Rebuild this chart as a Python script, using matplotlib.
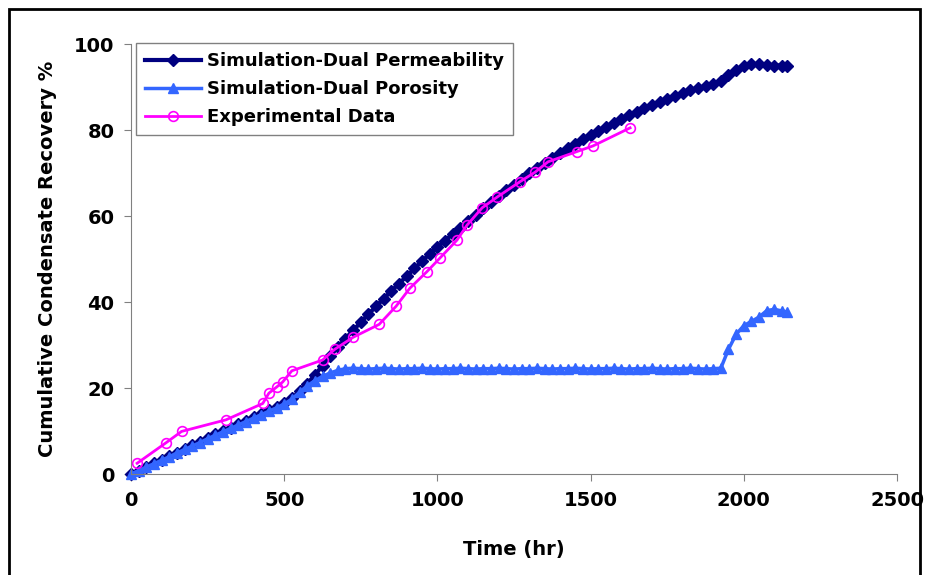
import numpy as np
import matplotlib
matplotlib.use("Agg")
from matplotlib import pyplot as plt
from matplotlib.patches import Rectangle

# sampling of the simulations (hr)
sim_hours = list(range(0, 2126, 25)) + [2140]

dual_perm = [0.0, 0.8, 1.6, 2.5, 3.3, 4.2, 5.0, 5.8, 6.7, 7.5,
             8.4, 9.2, 10.0, 10.8, 11.6, 12.4, 13.2, 14.0, 14.8, 15.6,
             16.5, 17.6, 19.2, 21.0, 23.0, 25.2, 27.4, 29.5, 31.5, 33.4,
             35.3, 37.2, 39.0, 40.8, 42.6, 44.3, 46.0, 47.8, 49.5, 51.2,
             52.8, 54.3, 55.8, 57.3, 58.8, 60.3, 61.8, 63.2, 64.6, 66.0,
             67.3, 68.6, 69.9, 71.1, 72.3, 73.5, 74.6, 75.7, 76.8, 77.8,
             78.8, 79.8, 80.7, 81.7, 82.6, 83.5, 84.3, 85.1, 85.9, 86.6,
             87.3, 88.0, 88.6, 89.2, 89.7, 90.2, 90.6, 91.3, 92.8, 94.0,
             94.8, 95.3, 95.4, 95.2, 95.0, 95.0, 94.9]

dual_poro = [0.0, 0.8, 1.6, 2.4, 3.2, 4.0, 4.9, 5.7, 6.5, 7.3,
             8.2, 9.0, 9.8, 10.6, 11.4, 12.2, 13.0, 13.8, 14.6, 15.4,
             16.3, 17.4, 19.0, 20.5, 21.7, 22.7, 23.5, 24.1, 24.5, 24.6,
             24.5, 24.4, 24.5, 24.6, 24.5, 24.4, 24.5, 24.5, 24.6, 24.5,
             24.4, 24.5, 24.5, 24.6, 24.5, 24.4, 24.5, 24.5, 24.6, 24.5,
             24.4, 24.5, 24.5, 24.6, 24.5, 24.4, 24.5, 24.5, 24.6, 24.5,
             24.4, 24.5, 24.5, 24.6, 24.5, 24.4, 24.5, 24.5, 24.6, 24.5,
             24.4, 24.5, 24.5, 24.6, 24.5, 24.4, 24.5, 24.6, 29.0, 32.5,
             34.5, 35.5, 36.5, 38.0, 38.3, 37.9, 37.7]

exp_hours = [20, 115, 165, 310, 430, 450, 475, 495, 525, 625,
             665, 725, 810, 865, 910, 965, 1008, 1064, 1097, 1146,
             1195, 1270, 1319, 1361, 1456, 1508, 1629]
exp_data = [2.5, 7.3, 9.9, 12.6, 16.4, 18.8, 20.2, 21.4, 24.0, 26.5,
            29.0, 31.8, 34.8, 39.0, 43.2, 47.0, 50.2, 54.4, 57.9, 61.9,
            64.4, 68.0, 70.2, 72.6, 75.0, 76.3, 80.5]

plt.rcParams['font.family'] = ['DejaVu Sans']
plt.rcParams['font.weight'] = 'bold'

fig = plt.figure(figsize=(9.25, 5.75), dpi=100)
ax = fig.add_axes([131/925, 1 - 474/575, (897 - 131)/925, (474 - 44)/575])

# black frame around the whole picture
fig.patches.append(Rectangle((9/925, -0.02), (920 - 9)/925, 1.02 - 9/575,
                             transform=fig.transFigure, fill=False,
                             edgecolor='black', linewidth=2))

ax.plot(sim_hours, dual_perm, color='#000080', marker='D', markersize=6.5,
        linewidth=3, label='Simulation-Dual Permeability', clip_on=False)
ax.plot(sim_hours, dual_poro, color='#3366FF', marker='^', markersize=6.5,
        linewidth=2.5, label='Simulation-Dual Porosity', clip_on=False)
ax.plot(exp_hours, exp_data, color='#FF00FF', marker='o', markersize=7,
        markerfacecolor='none', markeredgewidth=1.2, linewidth=2,
        label='Experimental Data')

ax.set_xlim(0, 2500)
ax.set_ylim(0, 100)
ax.set_xticks([0, 500, 1000, 1500, 2000, 2500])
ax.set_yticks([0, 20, 40, 60, 80, 100])
for s in ['top', 'right']:
    ax.spines[s].set_visible(False)
for s in ['left', 'bottom']:
    ax.spines[s].set_color('#808080')
ax.tick_params(colors='#808080', labelcolor='black', labelsize=14,
               length=5, direction='out', pad=7)

ax.set_xlabel('Time (hr)', fontsize=14, fontweight='bold', labelpad=22)
ax.set_ylabel('Cumulative Condensate Recovery %', fontsize=14,
              fontweight='bold', labelpad=12)

leg = ax.legend(loc='upper left', bbox_to_anchor=(0.007, 1.002), fontsize=13,
                handlelength=3.1, handletextpad=0.3, labelspacing=0.55,
                borderpad=0.5, borderaxespad=0, fancybox=False, framealpha=1)
leg.get_frame().set_edgecolor('#808080')

fig.savefig('out.png', dpi=100)
